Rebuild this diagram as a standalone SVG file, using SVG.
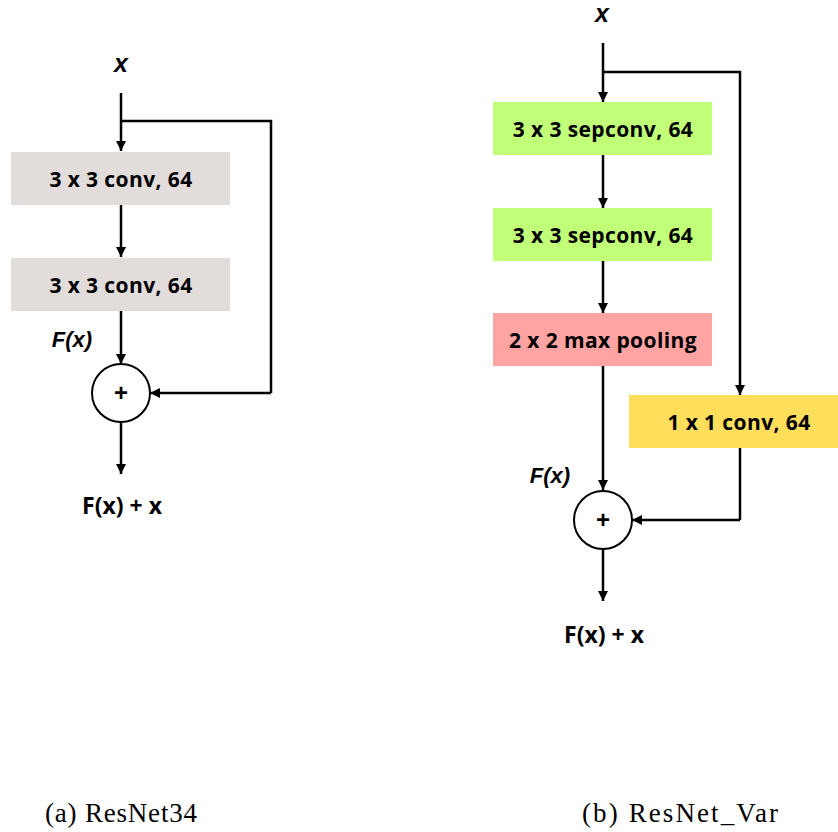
<svg xmlns="http://www.w3.org/2000/svg" width="838" height="832" viewBox="0 0 838 832">
  <defs>
    <marker id="arrow" viewBox="0 0 10 10" refX="10" refY="5" markerWidth="10" markerHeight="10" markerUnits="userSpaceOnUse" orient="auto">
      <path d="M0,0 L10,5 L0,10 Z" fill="#000"/>
    </marker>
    <style>
      .edge { fill: none; stroke: #000; stroke-width: 2.5; }
      .arr { marker-end: url(#arrow); }
      .lbl { font-family: "Open Sans", "Liberation Sans", sans-serif; font-weight: 700; font-size: 21px; letter-spacing: 0.4px; fill: #000; text-anchor: middle; }
      .math { font-family: "Liberation Sans", Arial, sans-serif; font-weight: 700; font-style: italic; font-size: 22px; fill: #000; text-anchor: middle; }
      .var { font-size: 25px; }
      .out { font-family: "Open Sans", "Liberation Sans", sans-serif; font-weight: 700; font-size: 23px; fill: #000; text-anchor: middle; }
      .plus { font-family: "Liberation Sans", Arial, sans-serif; font-weight: 700; font-size: 24px; fill: #000; text-anchor: middle; }
      .sum { fill: #fff; stroke: #000; stroke-width: 2; }
      .cap { font-family: "Liberation Serif", "Times New Roman", serif; font-size: 27px; fill: #000; }
      .conv { fill: #e2dddb; }
      .sep { fill: #c1ff78; }
      .pool { fill: #ffa3a3; }
      .proj { fill: #ffde5c; }
    </style>
  </defs>

  <rect width="838" height="832" fill="#fff"/>

  <!-- (a) ResNet34 block -->
  <g id="connectors-a">
    <path class="edge arr" d="M121,93 V151"/>
    <path class="edge" d="M121,121 H271 V393"/>
    <path class="edge arr" d="M271,393 H150"/>
    <path class="edge arr" d="M121,205 V257"/>
    <path class="edge arr" d="M121,311 V364"/>
    <path class="edge arr" d="M121,422 V474"/>
  </g>
  <g id="a-input"><text class="math var" x="121" y="72">x</text></g>
  <g id="a-conv1">
    <rect class="conv" x="11" y="152" width="219" height="53"/>
    <text class="lbl" x="121" y="187">3 x 3 conv, 64</text>
  </g>
  <g id="a-conv2">
    <rect class="conv" x="11" y="258" width="219" height="53"/>
    <text class="lbl" x="121" y="293">3 x 3 conv, 64</text>
  </g>
  <g id="a-fx"><text class="math" x="72" y="347">F(x)</text></g>
  <g id="a-sum">
    <circle class="sum" cx="121" cy="393" r="29"/>
    <text class="plus" x="121" y="401">+</text>
  </g>
  <g id="a-output"><text class="out" x="122" y="514">F(x) + x</text></g>

  <!-- (b) ResNet_Var block -->
  <g id="connectors-b">
    <path class="edge arr" d="M603,43 V102"/>
    <path class="edge arr" d="M603,72 H740 V395"/>
    <path class="edge arr" d="M603,155 V208"/>
    <path class="edge arr" d="M603,261 V313"/>
    <path class="edge arr" d="M603,366 V490"/>
    <path class="edge" d="M740,448 V520"/>
    <path class="edge arr" d="M740,520 H632"/>
    <path class="edge arr" d="M603,549 V601"/>
  </g>
  <g id="b-input"><text class="math var" x="602" y="22">x</text></g>
  <g id="b-sep1">
    <rect class="sep" x="493" y="102" width="219" height="53"/>
    <text class="lbl" x="603" y="137">3 x 3 sepconv, 64</text>
  </g>
  <g id="b-sep2">
    <rect class="sep" x="493" y="208" width="219" height="53"/>
    <text class="lbl" x="603" y="243">3 x 3 sepconv, 64</text>
  </g>
  <g id="b-pool">
    <rect class="pool" x="493" y="313" width="219" height="53"/>
    <text class="lbl" x="603" y="348">2 x 2 max pooling</text>
  </g>
  <g id="b-proj">
    <rect class="proj" x="629" y="395" width="209" height="53"/>
    <text class="lbl" x="739" y="430">1 x 1 conv, 64</text>
  </g>
  <g id="b-fx"><text class="math" x="550" y="483">F(x)</text></g>
  <g id="b-sum">
    <circle class="sum" cx="603" cy="520" r="29"/>
    <text class="plus" x="603" y="528">+</text>
  </g>
  <g id="b-output"><text class="out" x="604" y="643">F(x) + x</text></g>

  <!-- captions -->
  <text class="cap" x="45" y="822" textLength="152" lengthAdjust="spacing">(a) ResNet34</text>
  <text class="cap" x="582" y="822" textLength="196" lengthAdjust="spacing">(b) ResNet_Var</text>
</svg>
